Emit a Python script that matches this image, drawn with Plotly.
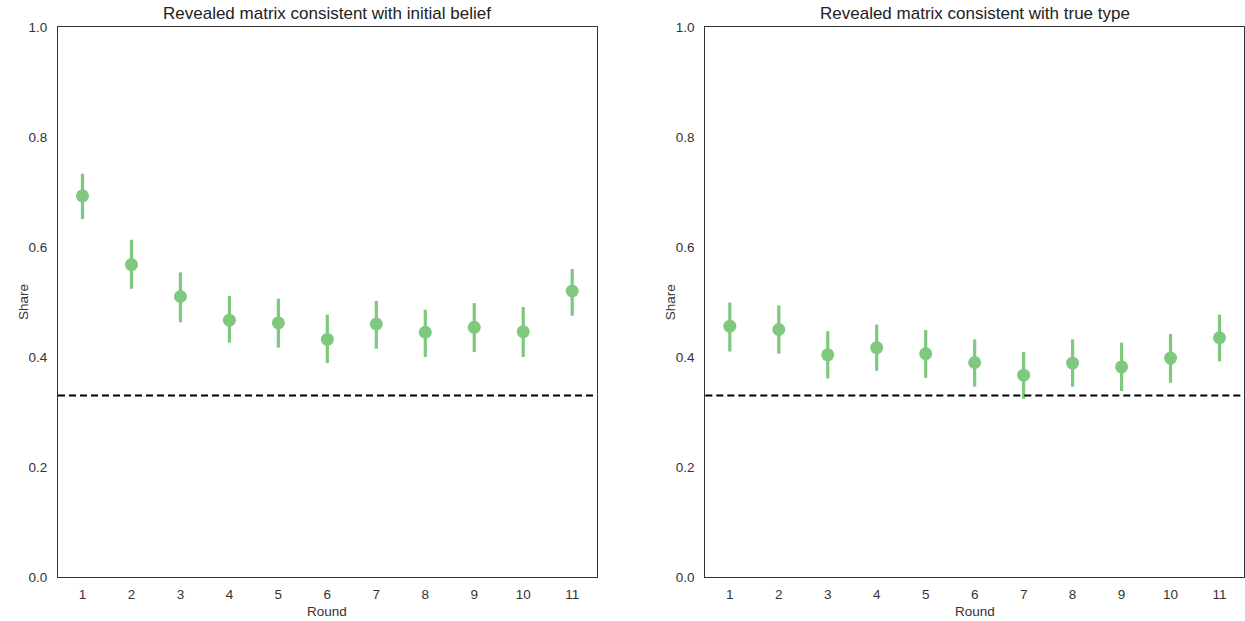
import plotly.graph_objects as go
from plotly.subplots import make_subplots

rounds = [str(i) for i in range(1, 12)]

belief_mean = [0.693, 0.568, 0.510, 0.467, 0.462, 0.432, 0.460, 0.445, 0.454, 0.446, 0.520]
belief_low = [0.651, 0.524, 0.463, 0.426, 0.417, 0.389, 0.415, 0.400, 0.409, 0.400, 0.475]
belief_high = [0.733, 0.613, 0.554, 0.511, 0.506, 0.477, 0.502, 0.486, 0.498, 0.491, 0.560]

true_mean = [0.456, 0.450, 0.404, 0.417, 0.406, 0.390, 0.367, 0.389, 0.382, 0.398, 0.435]
true_low = [0.410, 0.406, 0.361, 0.375, 0.362, 0.346, 0.324, 0.346, 0.338, 0.353, 0.392]
true_high = [0.499, 0.494, 0.447, 0.459, 0.449, 0.432, 0.409, 0.432, 0.426, 0.442, 0.477]

baseline = 0.33
titles = ["Revealed matrix consistent with initial belief", "Revealed matrix consistent with true type"]
x_title = "Round"
y_title = "Share"
color = "#7fc97f"
text_color = "#333333"

fig = make_subplots(rows=1, cols=2, subplot_titles=titles, horizontal_spacing=0.0916)

for col, (m, lo, hi) in enumerate([(belief_mean, belief_low, belief_high),
                                    (true_mean, true_low, true_high)], start=1):
    fig.add_trace(go.Scatter(
        x=rounds, y=m, mode="markers",
        marker=dict(color=color, size=13),
        error_y=dict(type="data", symmetric=False,
                     array=[h - v for h, v in zip(hi, m)],
                     arrayminus=[v - l for v, l in zip(m, lo)],
                     color=color, thickness=3.2, width=0),
        showlegend=False, hoverinfo="skip"), row=1, col=col)
    fig.add_hline(y=baseline, line=dict(color="black", width=2, dash="7px,4px"), row=1, col=col)
    sfx = "" if col == 1 else str(col)
    fig.add_annotation(text=x_title, xref=f"x{sfx} domain", yref=f"y{sfx} domain",
                       x=0.5, y=0, yshift=-34, xanchor="center", yanchor="middle",
                       showarrow=False, font=dict(size=13.5, color=text_color))
    fig.add_annotation(text=y_title, xref=f"x{sfx} domain", yref=f"y{sfx} domain",
                       x=0, y=0.5, xshift=-35, xanchor="center", yanchor="middle",
                       textangle=-90, showarrow=False, font=dict(size=13.5, color=text_color))

fig.update_xaxes(type="category", range=[-0.5, 10.5], showline=True, mirror=True,
                 linecolor=text_color, linewidth=1, showgrid=False, zeroline=False,
                 ticks="", ticklabelstandoff=5, tickfont=dict(size=13.5, color=text_color),
                 automargin=False)
fig.update_yaxes(range=[0, 1], tickvals=[0, 0.2, 0.4, 0.6, 0.8, 1.0], tickformat=".1f",
                 showline=True, mirror=True, linecolor=text_color, linewidth=1,
                 showgrid=False, zeroline=False, ticks="", ticklabelstandoff=7,
                 tickfont=dict(size=13.5, color=text_color), automargin=False)

for ann in list(fig.layout.annotations)[:2]:
    ann.font = dict(size=17, color="#222222")
    ann.yshift = 2

fig.update_layout(
    width=1245, height=621,
    margin=dict(l=58, r=1, t=27, b=44),
    paper_bgcolor="white", plot_bgcolor="white",
    font=dict(family="Liberation Sans, Arial, sans-serif", color=text_color),
)

fig.write_html("out.html", config={"displayModeBar": False},
               post_script="document.body.style.margin='0';document.body.style.overflow='hidden';")
